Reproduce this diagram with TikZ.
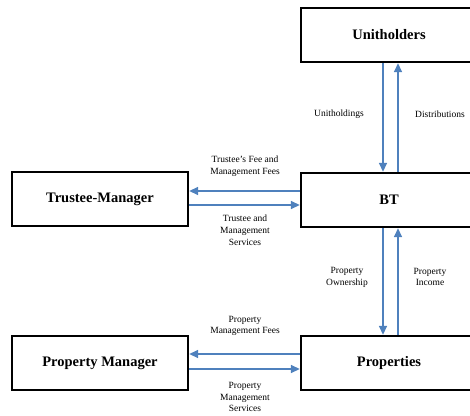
\documentclass[tikz,border=0pt]{standalone}
\usepackage{fontspec}
\setmainfont{Liberation Serif}
\usetikzlibrary{arrows.meta}
\definecolor{flowblue}{RGB}{79,129,189}
\tikzset{
  party/.style={draw, line width=2.4pt, minimum width=176pt, minimum height=54pt,
    font=\fontsize{14.5}{17}\selectfont\bfseries, inner sep=0pt},
  flow/.style={draw=flowblue, line width=1.6pt, -{Triangle[length=9pt,width=8pt]}},
  tag/.style={font=\fontsize{9.5}{11.8}\selectfont, align=center, inner sep=0pt}
}
\begin{document}
\begin{tikzpicture}[x=1pt, y=-1pt]
        \useasboundingbox (0,0) rectangle (470,415);

        % the five parties
        \node[party] (unit) at (389,35) {Unitholders};
        \node[party] (bt) at (389,200) {BT};
        \node[party] (tm) at (100,199) {Trustee-Manager};
        \node[party] (pm) at (100,363) {Property Manager};
        \node[party] (prop) at (389,363) {Properties};

        % unitholders and BT
        \draw[flow] ([xshift=-6pt]unit.south) -- ([xshift=-6pt]bt.north);
        \draw[flow] ([xshift=9pt]bt.north) -- ([xshift=9pt]unit.south);
        \node[tag] (uh) at (339,114) {Unitholdings};
        \node[tag] (dist) at (440,114) {Distributions};

        % BT and properties
        \draw[flow] ([xshift=-6pt]bt.south) -- ([xshift=-6pt]prop.north);
        \draw[flow] ([xshift=9pt]prop.north) -- ([xshift=9pt]bt.south);
        \node[tag] (own) at (347,277) {Property\\Ownership};
        \node[tag] (inc) at (430,277) {Property\\Income};

        % trustee-manager and BT
        \draw[flow] ([yshift=9pt]bt.west) -- ([yshift=8pt]tm.east);
        \draw[flow] ([yshift=-6pt]tm.east) -- ([yshift=-5pt]bt.west);
        \node[tag] (fees) at (245,166) {Trustee's Fee and\\Management Fees};
        \node[tag] (serv) at (245,230) {Trustee and\\Management\\Services};

        % property manager and properties
        \draw[flow] ([yshift=9pt]prop.west) -- ([yshift=9pt]pm.east);
        \draw[flow] ([yshift=-6pt]pm.east) -- ([yshift=-6pt]prop.west);
        \node[tag] (pfees) at (245,326) {Property\\Management Fees};
        \node[tag] (pserv) at (245,397) {Property\\Management\\Services};
\end{tikzpicture}
\end{document}
